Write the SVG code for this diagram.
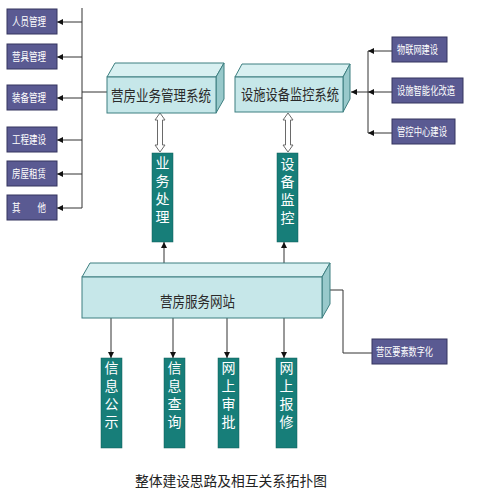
<svg xmlns="http://www.w3.org/2000/svg" width="500" height="492" viewBox="0 0 500 492">
<defs>
<style>
.pb{fill:#5a5a92;stroke:#34345e;stroke-width:1}
.pt{fill:#ffffff;font-family:"Noto Sans CJK SC","Noto Sans",sans-serif;font-size:11px}
.tb{fill:#177e79;stroke:#0f5e5a;stroke-width:0.5}
.tt{fill:#ffffff;font-family:"Noto Sans CJK SC","Noto Sans",sans-serif;font-size:14px;writing-mode:vertical-rl;letter-spacing:4px}
.ff{fill:#c6e7e9;stroke:#3d7f80;stroke-width:1}
.ft{fill:#d8f0f1;stroke:#3d7f80;stroke-width:1}
.fs{fill:#98c9cb;stroke:#3d7f80;stroke-width:1}
.st{fill:#2a2a2a;font-family:"Noto Sans CJK SC","Noto Sans",sans-serif;font-size:15px}
.ln{fill:none;stroke:#333333;stroke-width:1}
.da{fill:#ffffff;stroke:#6a6a6a;stroke-width:1}
.cap{fill:#222222;font-family:"Noto Sans CJK SC","Noto Sans",sans-serif;font-size:14px}
</style>
<marker id="ah" viewBox="0 0 10 10" refX="10" refY="5" markerWidth="6" markerHeight="6" markerUnits="userSpaceOnUse" orient="auto">
<path d="M0,0 L10,5 L0,10 Z" fill="#111111"/>
</marker>
</defs>
<rect width="500" height="492" fill="#ffffff"/>

<g id="connectors">
<path class="ln" d="M82,8 V208"/>
<path class="ln" d="M82,92 H107"/>
<path class="ln" d="M82,22 H57" marker-end="url(#ah)"/>
<path class="ln" d="M82,57 H57" marker-end="url(#ah)"/>
<path class="ln" d="M82,98 H57" marker-end="url(#ah)"/>
<path class="ln" d="M82,140 H57" marker-end="url(#ah)"/>
<path class="ln" d="M82,174 H57" marker-end="url(#ah)"/>
<path class="ln" d="M82,208 H57" marker-end="url(#ah)"/>
<path class="ln" d="M368,51 V133"/>
<path class="ln" d="M392,51 H368" marker-end="url(#ah)"/>
<path class="ln" d="M392,92 H368" marker-end="url(#ah)"/>
<path class="ln" d="M392,133 H368" marker-end="url(#ah)"/>
<path class="ln" d="M368,92 H351" marker-end="url(#ah)"/>
<polygon class="da" points="160,113 165,120 162.5,120 162.5,145 165,145 160,152 155,145 157.5,145 157.5,120 155,120"/>
<polygon class="da" points="288,113 293,120 290.5,120 290.5,145 293,145 288,152 283,145 285.5,145 285.5,120 283,120"/>
<path class="ln" d="M164,270 V242" marker-end="url(#ah)"/>
<path class="ln" d="M284,270 V242" marker-end="url(#ah)"/>
<path class="ln" d="M111,318 V358" marker-end="url(#ah)"/>
<path class="ln" d="M173,318 V358" marker-end="url(#ah)"/>
<path class="ln" d="M227,318 V358" marker-end="url(#ah)"/>
<path class="ln" d="M284,318 V358" marker-end="url(#ah)"/>
<path class="ln" d="M372,353 H343 V290 H324" marker-end="url(#ah)"/>
</g>

<g id="n-renyuan"><rect class="pb" x="7" y="9" width="50" height="25"/><text class="pt" x="12" y="26" textLength="34" lengthAdjust="spacingAndGlyphs">人员管理</text></g>
<g id="n-yingju"><rect class="pb" x="7" y="44" width="50" height="25"/><text class="pt" x="12" y="61" textLength="34" lengthAdjust="spacingAndGlyphs">营具管理</text></g>
<g id="n-zhuangbei"><rect class="pb" x="7" y="85" width="50" height="25"/><text class="pt" x="12" y="102" textLength="34" lengthAdjust="spacingAndGlyphs">装备管理</text></g>
<g id="n-gongcheng"><rect class="pb" x="7" y="127" width="50" height="25"/><text class="pt" x="12" y="144" textLength="34" lengthAdjust="spacingAndGlyphs">工程建设</text></g>
<g id="n-fangwu"><rect class="pb" x="7" y="161" width="50" height="25"/><text class="pt" x="12" y="178" textLength="34" lengthAdjust="spacingAndGlyphs">房屋租赁</text></g>
<g id="n-qita"><rect class="pb" x="7" y="195" width="50" height="25"/><text class="pt" x="12" y="212" xml:space="preserve" textLength="34" lengthAdjust="spacingAndGlyphs">其　　他</text></g>

<g id="n-yingfang-sys">
<polygon class="ft" points="107,77 115,63 224,63 216,77"/>
<polygon class="fs" points="216,77 224,63 224,99 216,113"/>
<rect class="ff" x="107" y="77" width="109" height="36"/>
<text class="st" x="111" y="101" textLength="100" lengthAdjust="spacingAndGlyphs">营房业务管理系统</text>
</g>

<g id="n-sheshi-sys">
<polygon class="ft" points="235,77 242,64 350,64 343,77"/>
<polygon class="fs" points="343,77 350,64 350,99 343,112"/>
<rect class="ff" x="235" y="77" width="108" height="35"/>
<text class="st" x="241" y="100" textLength="98" lengthAdjust="spacingAndGlyphs">设施设备监控系统</text>
</g>

<g id="n-wulianwang"><rect class="pb" x="392" y="37" width="55" height="25"/><text class="pt" x="397" y="54" textLength="41" lengthAdjust="spacingAndGlyphs">物联网建设</text></g>
<g id="n-zhineng"><rect class="pb" x="392" y="78" width="71" height="25"/><text class="pt" x="397" y="95" textLength="58" lengthAdjust="spacingAndGlyphs">设施智能化改造</text></g>
<g id="n-guankong"><rect class="pb" x="392" y="119" width="63" height="25"/><text class="pt" x="397" y="136" textLength="50" lengthAdjust="spacingAndGlyphs">管控中心建设</text></g>

<g id="n-yewu"><rect class="tb" x="152" y="153" width="21" height="89"/><text class="tt" x="162.5" y="156">业务处理</text></g>
<g id="n-shebei"><rect class="tb" x="277" y="153" width="21" height="89"/><text class="tt" x="287.5" y="157">设备监控</text></g>

<g id="n-website">
<polygon class="ft" points="82,277 90,263 330,263 322,277"/>
<polygon class="fs" points="322,277 330,263 330,304 322,318"/>
<rect class="ff" x="82" y="277" width="240" height="41"/>
<text class="st" x="160" y="307" textLength="75" lengthAdjust="spacingAndGlyphs">营房服务网站</text>
</g>

<g id="n-yingqu"><rect class="pb" x="372" y="339" width="75" height="25"/><text class="pt" x="376" y="356" textLength="57" lengthAdjust="spacingAndGlyphs">营区要素数字化</text></g>

<g id="n-xinxigongshi"><rect class="tb" x="101" y="358" width="21" height="90"/><text class="tt" x="111.5" y="361">信息公示</text></g>
<g id="n-xinxichaxun"><rect class="tb" x="164" y="358" width="21" height="90"/><text class="tt" x="174.5" y="361">信息查询</text></g>
<g id="n-shenpi"><rect class="tb" x="218" y="358" width="21" height="90"/><text class="tt" x="228.5" y="361">网上审批</text></g>
<g id="n-baoxiu"><rect class="tb" x="276" y="358" width="21" height="90"/><text class="tt" x="286.5" y="361">网上报修</text></g>

<text class="cap" x="135" y="486" textLength="192" lengthAdjust="spacingAndGlyphs">整体建设思路及相互关系拓扑图</text>
</svg>
